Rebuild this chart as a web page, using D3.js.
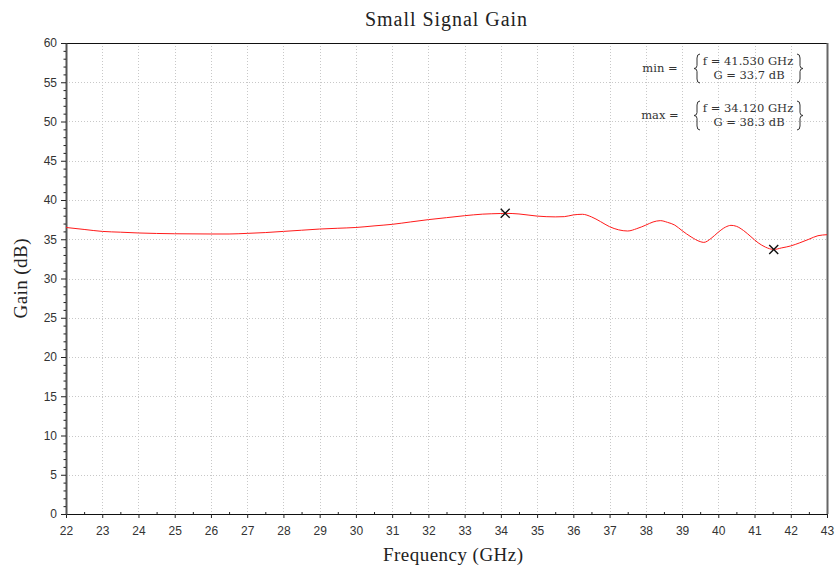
<!DOCTYPE html>
<html>
<head>
<meta charset="utf-8">
<script src="https://cdn.jsdelivr.net/npm/d3@7"></script>
<style>
  body { margin: 0; background: #fff; }
  .tick text { font-family: "Liberation Sans", Arial, sans-serif; font-size: 12px; fill: #333; }
  .serif { font-family: "Liberation Serif", "Times New Roman", serif; fill: #222; }
  .note { font-family: "DejaVu Serif", serif; font-size: 11.5px; fill: #333; }
</style>
</head>
<body>
<script>
// frequency (GHz) and gain (dB)
const freq = [22, 22.5, 23, 23.5, 24, 25, 26, 26.5, 27, 27.5, 28, 28.5, 29, 29.5, 30, 30.5, 31, 31.5, 32, 32.5,
  33, 33.5, 34, 34.12, 34.5, 35, 35.5, 35.75, 36, 36.25, 36.5, 36.75, 37, 37.25, 37.5, 37.75, 38, 38.2, 38.4,
  38.6, 38.8, 39, 39.25, 39.5, 39.6, 39.8, 40, 40.2, 40.35, 40.5, 40.7, 40.9, 41.1, 41.3, 41.53, 41.75, 42,
  42.25, 42.5, 42.75, 43];
const gain = [36.5, 36.25, 36.0, 35.9, 35.8, 35.7, 35.67, 35.67, 35.75, 35.85, 36.0, 36.15, 36.3, 36.4, 36.5, 36.7, 36.9, 37.2, 37.5, 37.75,
  38.0, 38.2, 38.28, 38.3, 38.22, 37.95, 37.85, 37.88, 38.1, 38.18, 37.85, 37.25, 36.6, 36.2, 36.05, 36.35, 36.8, 37.2, 37.37,
  37.15, 36.8, 36.1, 35.3, 34.7, 34.6, 35.1, 35.9, 36.55, 36.77, 36.65, 36.1, 35.33, 34.55, 34.0, 33.7, 33.9, 34.15,
  34.55, 35.0, 35.45, 35.58];

// extrema markers and their labels
const markLabels = ["min =", "max ="];
const markFreq = [41.53, 34.12];
const markGain = [33.7, 38.3];
const markTextF = ["f = 41.530 GHz", "f = 34.120 GHz"];
const markTextG = ["G = 33.7 dB", "G = 38.3 dB"];

const xTicks = d3.range(22, 44, 1);
const xMinor = d3.range(22.5, 43, 1);
const yTicks = d3.range(0, 61, 5);
const yMinor = d3.range(0, 61, 1).filter(v => v % 5 !== 0);

const W = 837, H = 570;
const pL = 66, pR = 827, pT = 43, pB = 514;

const svg = d3.select("body").append("svg")
  .attr("width", W).attr("height", H);

const x = d3.scaleLinear().domain([22, 43]).range([pL, pR]);
const y = d3.scaleLinear().domain([0, 60]).range([pB, pT]);

// dotted grid
const grid = svg.append("g").attr("stroke", "#c8c8c8").attr("stroke-dasharray", "1,2").attr("stroke-width", 1);
grid.selectAll("line.gx").data(xTicks.slice(1, -1)).enter().append("line")
  .attr("x1", d => Math.round(x(d)) + 0.5).attr("x2", d => Math.round(x(d)) + 0.5)
  .attr("y1", pT).attr("y2", pB);
grid.selectAll("line.gy").data(yTicks.slice(1, -1)).enter().append("line")
  .attr("y1", d => Math.round(y(d)) + 0.5).attr("y2", d => Math.round(y(d)) + 0.5)
  .attr("x1", pL).attr("x2", pR);

// box
svg.append("line").attr("x1", pL).attr("x2", pR).attr("y1", pT + 0.5).attr("y2", pT + 0.5)
  .attr("stroke", "#111").attr("stroke-width", 1);
svg.append("line").attr("x1", pR + 0.5).attr("x2", pR + 0.5).attr("y1", pT).attr("y2", pB)
  .attr("stroke", "#666").attr("stroke-width", 2);

// axes
const xAxis = svg.append("g").attr("transform", `translate(0,${pB})`)
  .call(d3.axisBottom(x).tickValues(xTicks).tickSize(4).tickPadding(8).tickSizeOuter(0));
svg.append("g").attr("transform", `translate(0,${pB})`)
  .call(d3.axisBottom(x).tickValues(xMinor).tickSize(-2).tickFormat("").tickSizeOuter(0))
  .select(".domain").remove();
const yAxis = svg.append("g").attr("transform", `translate(${pL},0)`)
  .call(d3.axisLeft(y).tickValues(yTicks).tickSize(5).tickPadding(4).tickSizeOuter(0));
svg.append("g").attr("transform", `translate(${pL},0)`)
  .call(d3.axisLeft(y).tickValues(yMinor).tickSize(2.5).tickFormat("").tickSizeOuter(0))
  .select(".domain").remove();
xAxis.select(".domain").attr("stroke", "#111");
yAxis.select(".domain").attr("stroke", "#555").attr("stroke-width", 2);
svg.selectAll(".tick line").attr("stroke", "#222");

// gain curve
const pts = freq.map((f, i) => [f, gain[i]]);
svg.append("path").datum(pts)
  .attr("fill", "none").attr("stroke", "#ff1a1a").attr("stroke-width", 1)
  .attr("d", d3.line().x(d => x(d[0])).y(d => y(d[1])).curve(d3.curveMonotoneX));

// x markers
markFreq.forEach((f, i) => {
  const cx = x(f), cy = y(markGain[i]), s = 4.5;
  svg.append("path")
    .attr("d", `M${cx - s},${cy - s}L${cx + s},${cy + s}M${cx - s},${cy + s}L${cx + s},${cy - s}`)
    .attr("stroke", "#111").attr("stroke-width", 1.4);
});

// brace helper
function brace(xs, y0, y1, dir) {
  const m = (y0 + y1) / 2, t = 3 * dir;
  return `M${xs - t},${y0} Q${xs},${y0} ${xs},${y0 + 4} L${xs},${m - 3} Q${xs},${m} ${xs + t},${m}` +
    ` Q${xs},${m} ${xs},${m + 3} L${xs},${y1 - 4} Q${xs},${y1} ${xs - t},${y1}`;
}

// annotation blocks
markLabels.forEach((lab, i) => {
  const dy = i * 47;
  svg.append("text").attr("class", "note")
    .attr("x", 660).attr("y", 72 + dy).attr("text-anchor", "middle").text(lab);
  svg.append("text").attr("class", "note")
    .attr("x", 748).attr("y", 65 + dy).attr("text-anchor", "middle").text(markTextF[i]);
  svg.append("text").attr("class", "note")
    .attr("x", 749).attr("y", 79 + dy).attr("text-anchor", "middle").text(markTextG[i]);
  svg.append("path").attr("d", brace(697, 54 + dy, 83 + dy, -1))
    .attr("fill", "none").attr("stroke", "#333").attr("stroke-width", 1);
  svg.append("path").attr("d", brace(800, 54 + dy, 83 + dy, 1))
    .attr("fill", "none").attr("stroke", "#333").attr("stroke-width", 1);
});

// titles
svg.append("text").attr("class", "serif")
  .attr("x", 446).attr("y", 26).attr("text-anchor", "middle")
  .attr("font-size", 20).attr("textLength", 162).text("Small Signal Gain");
svg.append("text").attr("class", "serif")
  .attr("x", 453).attr("y", 561).attr("text-anchor", "middle")
  .attr("font-size", 19).attr("textLength", 140).text("Frequency (GHz)");
svg.append("text").attr("class", "serif")
  .attr("transform", `translate(27,${(pT + pB) / 2}) rotate(-90)`)
  .attr("text-anchor", "middle")
  .attr("font-size", 19).attr("textLength", 80).text("Gain (dB)");
</script>
</body>
</html>
